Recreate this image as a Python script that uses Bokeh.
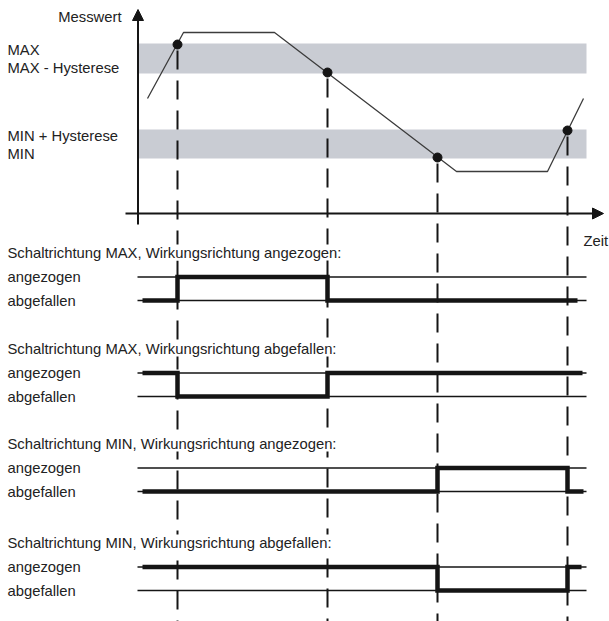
from bokeh.plotting import figure
from bokeh.models import Range1d, Arrow, NormalHead
from bokeh.core.properties import value
from bokeh.embed import file_html
from bokeh.resources import INLINE

# ---------------- data (schematic diagram units) ----------------
# measured value over time (upper diagram)
curve_t = [147, 183, 274, 456, 547, 583]
curve_v = [98, 32, 32, 171, 171, 98]

# switching instants and the measured value at those instants
switch_t = [177, 327, 437, 567]
switch_v = [44, 72, 157, 130]

# threshold bands: (upper edge, lower edge)
band_names = ["MAX", "MIN"]
band_top = [43, 129]
band_bottom = [73, 158]

# threshold labels
level_labels = ["MAX", "MAX - Hysterese", "MIN + Hysterese", "MIN"]
level_label_v = [49, 67, 135, 153]

# relay sections
section_titles = [
    "Schaltrichtung MAX, Wirkungsrichtung angezogen:",
    "Schaltrichtung MAX, Wirkungsrichtung abgefallen:",
    "Schaltrichtung MIN, Wirkungsrichtung angezogen:",
    "Schaltrichtung MIN, Wirkungsrichtung abgefallen:",
]
state_names = ["angezogen", "abgefallen"]
# state in each interval: before t1, t1-t2, t2-t3, t3-t4, after t4 (1 = angezogen)
section_states = [
    [0, 1, 0, 0, 0],
    [1, 0, 1, 1, 1],
    [0, 0, 0, 1, 0],
    [1, 1, 1, 0, 1],
]
section_high = [276.5, 372.5, 467.5, 566.5]
section_gap = 23.5
signal_start = 142
signal_end = [577, 582, 583, 581]

# ---------------- drawing ----------------
W, H = 609, 621
FONT = value("Liberation Sans")
FS = value("14.8px")
TXT = "#222222"
INK = "#151515"

p = figure(width=W, height=H, x_range=Range1d(0, W), y_range=Range1d(H, 0),
           output_backend="svg", toolbar_location=None, min_border=0,
           x_axis_type=None, y_axis_type=None)
p.grid.visible = False
p.outline_line_color = None
p.background_fill_color = "white"

# threshold bands
p.quad(left=137, right=586, top=band_top, bottom=band_bottom,
       fill_color="#c9ccd3", line_color=None)

# vertical dashed switching lines
p.segment(x0=switch_t, y0=[v + 6 for v in switch_v], x1=switch_t, y1=[H] * len(switch_t),
          line_color=INK, line_width=2, line_dash="19 11")

# axes with arrows
p.add_layout(Arrow(end=NormalHead(size=11, fill_color=INK, line_color=INK),
                   x_start=125, y_start=213, x_end=603, y_end=213,
                   line_color=INK, line_width=2))
p.add_layout(Arrow(end=NormalHead(size=11, fill_color=INK, line_color=INK),
                   x_start=137.5, y_start=224, x_end=137.5, y_end=9,
                   line_color=INK, line_width=2))

# measured curve and switching points
p.line(curve_t, curve_v, line_color="#3c3c3c", line_width=1.3)
p.scatter(switch_t, switch_v, size=9, fill_color=INK, line_color=INK)

# texts of upper diagram
p.text(x=[121], y=[16], text=["Messwert"], text_font=FONT, text_font_size=FS,
       text_align="right", text_baseline="middle", text_color=TXT)
p.text(x=[583], y=[240], text=["Zeit"], text_font=FONT, text_font_size=FS,
       text_align="left", text_baseline="middle", text_color=TXT)
p.text(x=[7] * len(level_labels), y=level_label_v, text=level_labels, text_font=FONT,
       text_font_size=FS, text_align="left", text_baseline="middle", text_color=TXT)

# relay sections
bounds_all = switch_t
for k, title in enumerate(section_titles):
    hi = section_high[k]
    lo = hi + section_gap
    p.text(x=[7], y=[hi - 24.5], text=[title], text_font=FONT, text_font_size=FS,
           text_align="left", text_baseline="middle", text_color=TXT,
           background_fill_color="white", padding=0)
    p.text(x=[7, 7], y=[hi, lo], text=state_names, text_font=FONT, text_font_size=FS,
           text_align="left", text_baseline="middle", text_color=TXT)
    # thin reference lines
    p.segment(x0=[137, 137], y0=[hi, lo], x1=[586, 586], y1=[hi, lo],
              line_color=INK, line_width=1.3)
    # thick state line
    edges = [signal_start] + list(bounds_all) + [signal_end[k]]
    xs, ys = [], []
    for i, s in enumerate(section_states[k]):
        y = hi if s == 1 else lo
        xs += [edges[i], edges[i + 1]]
        ys += [y, y]
    p.line(xs, ys, line_color=INK, line_width=4.5, line_join="miter", line_cap="butt")

open("out.html", "w").write(file_html(p, INLINE))
